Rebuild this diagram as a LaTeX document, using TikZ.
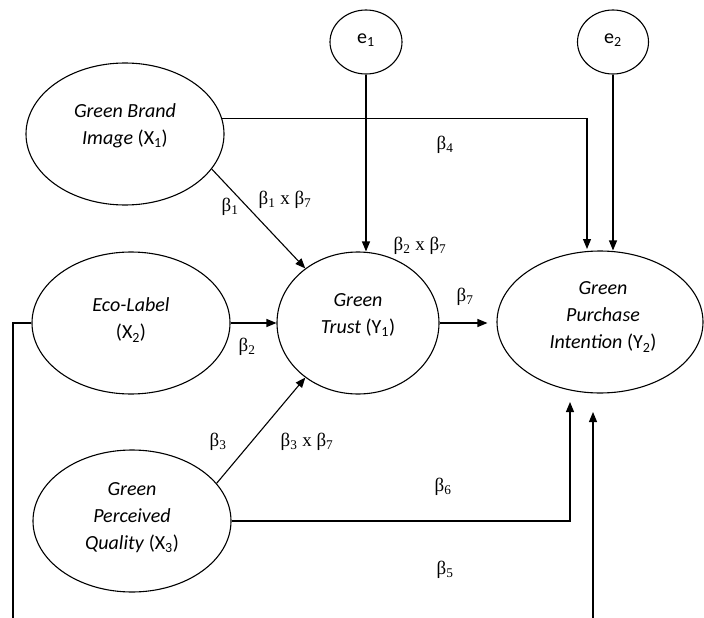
\documentclass[tikz,border=0pt]{standalone}
\usepackage{fontspec}
\setmainfont{Carlito}
\newfontfamily\betafont{Liberation Serif}
\usetikzlibrary{shapes.geometric,arrows.meta}
\begin{document}
\begin{tikzpicture}[x=1pt,y=-1pt,
  line width=1.1pt,
  latent/.style={ellipse, draw, line width=1.1pt, inner sep=0pt},
  lbl/.style={align=center, font=\fontsize{20}{27}\selectfont, inner sep=0pt},
  coef/.style={font=\betafont\fontsize{19}{22}\selectfont, inner sep=0pt},
  arr/.style={-{Triangle[length=10pt,width=8pt]}},
]
\useasboundingbox (0,0) rectangle (704,618);

% constructs
\node[latent, minimum width=198pt, minimum height=142pt] (x1) at (125,134) {};
\node[latent, minimum width=198pt, minimum height=142pt] (x2) at (131,323) {};
\node[latent, minimum width=198pt, minimum height=142pt] (x3) at (132,521) {};
\node[latent, minimum width=162pt, minimum height=142pt] (y1) at (358,323) {};
\node[latent, minimum width=206pt, minimum height=142pt] (y2) at (600,322) {};
\node[latent, minimum width=72pt, minimum height=64pt] (e1) at (366,42) {};
\node[latent, minimum width=71pt, minimum height=64pt] (e2) at (613,42) {};

% construct names
\node[lbl] (x1t) at (125,126) {\textit{Green Brand}\\\textit{Image} (X\textsubscript{1})};
\node[lbl] (x2t) at (131,320) {\textit{Eco-Label}\\(X\textsubscript{2})};
\node[lbl] (x3t) at (132,518) {\textit{Green}\\\textit{Perceived}\\\textit{Quality} (X\textsubscript{3})};
\node[lbl] (y1t) at (358,315) {\textit{Green}\\\textit{Trust} (Y\textsubscript{1})};
\node[lbl] (y2t) at (603,317) {\textit{Green}\\\textit{Purchase}\\\textit{Intention} (Y\textsubscript{2})};
\node[lbl] (e1t) at (366,40) {e\textsubscript{1}};
\node[lbl] (e2t) at (613,40) {e\textsubscript{2}};

% paths
\draw[arr] (x1.-22) -- (y1.134);
\draw[arr] (x2.east) -- (x2.east -| y1.west);
\draw[arr] (x3.24) -- (y1.226);
\draw[arr, shorten >=9pt] (y1.east) -- (y1.east -| y2.west);
\draw[arr] (e1.south) -- (e1.south |- y1.north);
\draw[arr] (e2.south) -- (e2.south |- y2.north);
\coordinate (k4) at (587,249);
\draw[arr] (x1.9) -| (k4);
\coordinate (k6) at (570,402);
\draw[arr] (x3.east) -| (k6);
\coordinate (k5a) at (593,618);
\coordinate (k5b) at (593,412);
\draw[arr] (k5a) -- (k5b);
\coordinate (kl) at (13,618);
\draw (x2.west) -| (kl);

% coefficients
\node[coef] (b1) at (230,207) {β\textsubscript{1}};
\node[coef] (b17) at (285,200) {β\textsubscript{1} x β\textsubscript{7}};
\node[coef] (b27) at (420,246) {β\textsubscript{2} x β\textsubscript{7}};
\node[coef] (b4) at (445,145) {β\textsubscript{4}};
\node[coef] (b2) at (247,347) {β\textsubscript{2}};
\node[coef] (b7) at (465,297) {β\textsubscript{7}};
\node[coef] (b3) at (218,442) {β\textsubscript{3}};
\node[coef] (b37) at (307,442) {β\textsubscript{3} x β\textsubscript{7}};
\node[coef] (b6) at (443,487) {β\textsubscript{6}};
\node[coef] (b5) at (445,570) {β\textsubscript{5}};
\end{tikzpicture}
\end{document}
